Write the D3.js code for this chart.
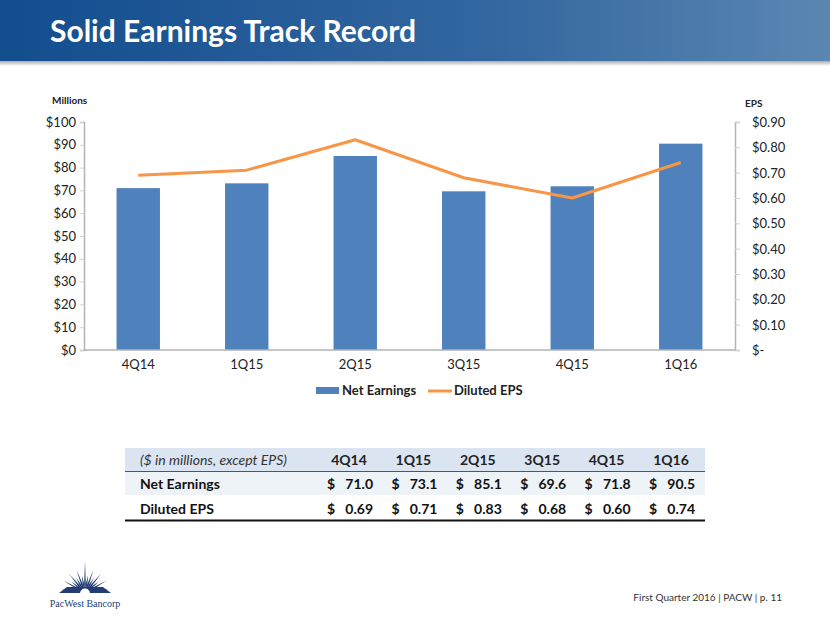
<!DOCTYPE html>
<html><head><meta charset="utf-8">
<script src="https://cdn.jsdelivr.net/npm/d3@7"></script>
<style>body{margin:0;background:#fff}svg{display:block}text{font-family:Lato,"Open Sans",sans-serif}</style>
</head><body>
<script>
const categories = ["4Q14","1Q15","2Q15","3Q15","4Q15","1Q16"];
const netEarnings = [71.0, 73.1, 85.1, 69.6, 71.8, 90.5];
const dilutedEPS = [0.69, 0.71, 0.83, 0.68, 0.60, 0.74];
const leftTicks = [0,10,20,30,40,50,60,70,80,90,100];
const rightTicks = [0,0.1,0.2,0.3,0.4,0.5,0.6,0.7,0.8,0.9];
const tableHeader = "($ in millions, except EPS)";
const rowLabels = ["Net Earnings","Diluted EPS"];
const rowValues = [netEarnings.map(v=>v.toFixed(1)), dilutedEPS.map(v=>v.toFixed(2))];

const W=830,H=623;
const svg=d3.select("body").append("svg").attr("width",W).attr("height",H);
const defs=svg.append("defs");
const g1=defs.append("linearGradient").attr("id","tg").attr("x1","0").attr("x2","1").attr("y1","0").attr("y2","0");
g1.append("stop").attr("offset","0").attr("stop-color","#124d8e");
g1.append("stop").attr("offset","0.6").attr("stop-color","#3467a0");
g1.append("stop").attr("offset","1").attr("stop-color","#5b87b2");
const g2=defs.append("linearGradient").attr("id","sh").attr("x1","0").attr("x2","0").attr("y1","0").attr("y2","1");
g2.append("stop").attr("offset","0").attr("stop-color","#9a9a9a");
g2.append("stop").attr("offset","1").attr("stop-color","#ffffff");

// Title bar
svg.append("rect").attr("x",0).attr("y",60).attr("width",W).attr("height",6).attr("fill","url(#sh)");
svg.append("rect").attr("x",0).attr("y",0).attr("width",W).attr("height",61).attr("fill","url(#tg)");
svg.append("text").attr("x",50).attr("y",42).attr("fill","#fff").attr("font-size",30).attr("font-weight","bold")
  .text("Solid Earnings Track Record");

// Scales
const x=d3.scaleBand().domain(categories).range([84,735]).paddingInner(0.6).paddingOuter(0.3);
const yL=d3.scaleLinear().domain([0,100]).range([350,122]);
const yR=d3.scaleLinear().domain([0,0.9]).range([350,122]);

// Bars
svg.append("g").selectAll("rect").data(netEarnings).join("rect")
  .attr("x",(d,i)=>x(categories[i])).attr("width",x.bandwidth())
  .attr("y",d=>yL(d)).attr("height",d=>yL(0)-yL(d)).attr("fill","#4f81bd");

// Line
const line=d3.line().x((d,i)=>x(categories[i])+x.bandwidth()/2).y(d=>yR(d));
svg.append("path").datum(dilutedEPS).attr("d",line).attr("fill","none").attr("stroke","#f79646").attr("stroke-width",3).attr("stroke-linejoin","round");

// Axes
const axL=svg.append("g").attr("transform","translate(84,0)")
  .call(d3.axisLeft(yL).tickValues(leftTicks).tickFormat(d=>"$"+d).tickSize(4).tickPadding(4));
const axR=svg.append("g").attr("transform","translate(735,0)")
  .call(d3.axisRight(yR).tickValues(rightTicks).tickFormat(d=>d===0?"$-":"$"+d.toFixed(2)).tickSize(5).tickPadding(12));
const axB=svg.append("g").attr("transform","translate(0,350)")
  .call(d3.axisBottom(x).tickSize(0).tickPadding(10));
[axL,axR,axB].forEach(a=>{
  a.select(".domain").attr("stroke","#b3b3b3").attr("stroke-width",1.5);
  a.selectAll(".tick line").attr("stroke","#d0d0d0");
  a.selectAll("text").attr("font-size",13).attr("fill","#222").attr("font-family","Lato,sans-serif");
});
axB.select(".domain").attr("d","M84,0H735");
axR.selectAll("text").attr("dy","0.35em");

svg.append("text").attr("x",52).attr("y",104).attr("font-size",10).attr("font-weight","bold").attr("fill","#222").text("Millions");
svg.append("text").attr("x",745).attr("y",107).attr("font-size",10).attr("font-weight","bold").attr("fill","#222").text("EPS");

// Legend
svg.append("rect").attr("x",316).attr("y",387).attr("width",23).attr("height",7).attr("fill","#4f81bd");
svg.append("text").attr("x",342).attr("y",395).attr("font-size",13).attr("font-weight","bold").attr("fill","#222").text("Net Earnings");
svg.append("line").attr("x1",428).attr("x2",452).attr("y1",391).attr("y2",391).attr("stroke","#f79646").attr("stroke-width",3);
svg.append("text").attr("x",454).attr("y",395).attr("font-size",13).attr("font-weight","bold").attr("fill","#222").text("Diluted EPS");

// Table
const tL=125,tR=705;
const colX=d3.scalePoint().domain(categories).range([349,671]);
svg.append("rect").attr("x",tL).attr("y",448).attr("width",tR-tL).attr("height",23).attr("fill","#dbe5f1");
svg.append("rect").attr("x",tL).attr("y",471).attr("width",tR-tL).attr("height",24).attr("fill","#eef3f8");
svg.append("line").attr("x1",tL).attr("x2",tR).attr("y1",471.5).attr("y2",471.5).attr("stroke","#555").attr("stroke-width",1);
svg.append("line").attr("x1",tL).attr("x2",tR).attr("y1",520.5).attr("y2",520.5).attr("stroke","#111").attr("stroke-width",2);
svg.append("text").attr("x",140).attr("y",465).attr("font-size",14).attr("font-style","italic").attr("fill","#333").text(tableHeader);
svg.append("g").selectAll("text").data(categories).join("text")
  .attr("x",d=>colX(d)).attr("y",465).attr("text-anchor","middle").attr("font-size",14).attr("font-weight","bold").attr("fill","#222").text(d=>d);
const rowY=[489,514];
rowLabels.forEach((lab,r)=>{
  svg.append("text").attr("x",140).attr("y",rowY[r]).attr("font-size",14).attr("font-weight","bold").attr("fill","#111").text(lab);
  const gg=svg.append("g");
  gg.selectAll("text.d").data(categories).join("text").attr("class","d")
    .attr("x",d=>colX(d)-22).attr("y",rowY[r]).attr("font-size",14).attr("font-weight","bold").attr("fill","#111").text("$");
  gg.selectAll("text.v").data(rowValues[r]).join("text").attr("class","v")
    .attr("x",(d,i)=>colX(categories[i])+24).attr("y",rowY[r]).attr("text-anchor","end").attr("font-size",14).attr("font-weight","bold").attr("fill","#111").text(d=>d);
});

// Footer
svg.append("text").attr("x",782).attr("y",601).attr("text-anchor","end").attr("font-size",10).attr("fill","#333").text("First Quarter 2016 | PACW | p. 11");

// Logo
const lg=svg.append("g").attr("transform","translate(85,593)");
const angles=d3.range(-80,81,10);
angles.forEach((a,i)=>{
  const r=(i%2===0)?(Math.abs(a)<5?32:25):18;
  const rad=(a-90)*Math.PI/180;
  const tip=[Math.cos(rad)*r,Math.sin(rad)*r];
  const b1=[Math.cos(rad-0.09)*9,Math.sin(rad-0.09)*9], b2=[Math.cos(rad+0.09)*9,Math.sin(rad+0.09)*9];
  lg.append("path").attr("d",`M0,0L${b1}L${tip}L${b2}Z`).attr("fill","#233d73");
});
lg.append("path").attr("d","M-26,0L26,0L18,-6L-18,-6Z").attr("fill","#233d73");
lg.append("path").attr("d","M-5,0.5A5,5 0 0 1 5,0.5Z").attr("fill","#fff");
svg.append("text").attr("x",85).attr("y",607).attr("text-anchor","middle").attr("font-size",10)
  .style("font-family","'Liberation Serif',serif").attr("fill","#233d73").text("PacWest Bancorp");
</script>
</body></html>
